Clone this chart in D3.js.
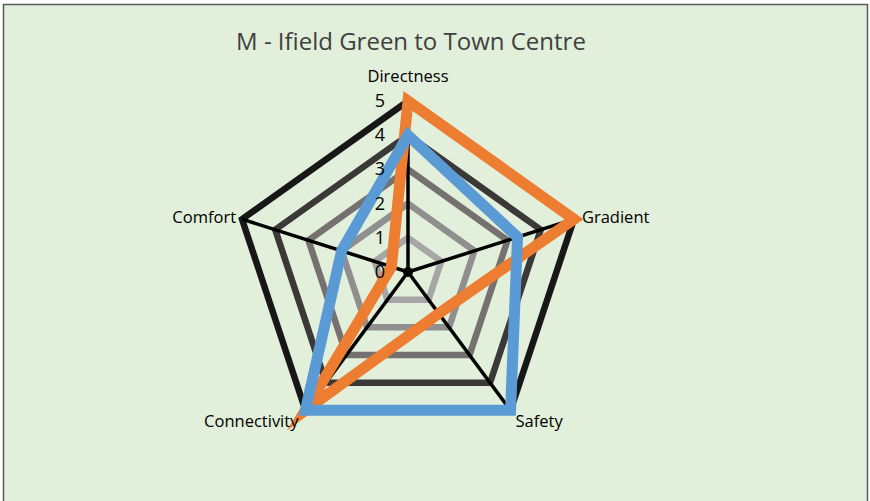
<!DOCTYPE html>
<html>
<head>
    <meta charset="utf-8">
    <title>M - Ifield Green to Town Centre</title>
    <style type="text/css">
        body {
            margin: 0;
            background-color: #ffffff;
        }

        text {
            font-family: "Open Sans", Lato, sans-serif;
            fill: #000000;
        }

        .title {
            font-size: 24px;
            fill: #404040;
        }

        .cat {
            font-size: 16.5px;
        }

        .tick {
            font-size: 18px;
        }
    </style>
</head>
<body>

<script src="https://cdn.jsdelivr.net/npm/d3@7"></script>
<script type="text/javascript">
    //图表数据
    var categories = ["Directness", "Gradient", "Safety", "Connectivity", "Comfort"];
    var tickLabels = [0, 1, 2, 3, 4, 5];
    var seriesOrange = [5, 5, 1.5, 5, 0.5];
    var seriesBlue = [4, 3.3, 5, 5, 2];
    var ringColors = ["#a6a6a6", "#8f8f8f", "#767171", "#3b3838", "#171717"];

    var width = 870,
        height = 501,
        cx = 408,
        cy = 272;

    var svg = d3.select("body")
        .append("svg")
        .attr("width", width)
        .attr("height", height);

    //背景和边框
    svg.append("rect")
        .attr("x", 3.5)
        .attr("y", 4.5)
        .attr("width", 864)
        .attr("height", 510)
        .attr("fill", "#e2efda")
        .attr("stroke", "#595959")
        .attr("stroke-width", 1.5);

    svg.append("text")
        .attr("class", "title")
        .attr("x", 411)
        .attr("y", 50)
        .attr("text-anchor", "middle")
        .text("M - Ifield Green to Town Centre");

    //半径比例尺（原图水平方向略宽）
    var rx = d3.scaleLinear().domain([0, 5]).range([0, 174.5]);
    var ry = d3.scaleLinear().domain([0, 5]).range([0, 171]);
    var angle = d3.scalePoint()
        .domain(categories)
        .range([0, 2 * Math.PI * (categories.length - 1) / categories.length]);

    function px(c, v) { return rx(v) * Math.sin(angle(c)); }
    function py(c, v) { return -ry(v) * Math.cos(angle(c)); }

    var g = svg.append("g").attr("transform", "translate(" + cx + "," + cy + ")");

    var poly = d3.line()
        .x(function (d) { return px(d.cat, d.v); })
        .y(function (d) { return py(d.cat, d.v); })
        .curve(d3.curveLinearClosed);

    //网格环
    g.selectAll("path.ring")
        .data(tickLabels.slice(1))
        .enter()
        .append("path")
        .attr("class", "ring")
        .attr("d", function (t) {
            return poly(categories.map(function (c) { return {cat: c, v: t}; }));
        })
        .attr("fill", "none")
        .attr("stroke", function (t, i) { return ringColors[i]; })
        .attr("stroke-width", 6.5)
        .attr("stroke-linejoin", "miter");

    //轴线
    g.selectAll("line.spoke")
        .data(categories)
        .enter()
        .append("line")
        .attr("class", "spoke")
        .attr("x1", 0)
        .attr("y1", 0)
        .attr("x2", function (c) { return px(c, 5); })
        .attr("y2", function (c) { return py(c, 5); })
        .attr("stroke", "#000000")
        .attr("stroke-width", 3.5);

    g.append("circle").attr("r", 5).attr("fill", "#000000");

    //数据系列
    var series = [
        {values: seriesOrange, color: "#ed7d31"},
        {values: seriesBlue, color: "#5b9bd5"}
    ];

    g.selectAll("path.series")
        .data(series)
        .enter()
        .append("path")
        .attr("class", "series")
        .attr("d", function (s) {
            return poly(s.values.map(function (v, i) { return {cat: categories[i], v: v}; }));
        })
        .attr("fill", "none")
        .attr("stroke", function (s) { return s.color; })
        .attr("stroke-width", 11)
        .attr("stroke-linejoin", "miter")
        .attr("stroke-miterlimit", 10);

    //刻度标签
    g.selectAll("text.tick")
        .data(tickLabels)
        .enter()
        .append("text")
        .attr("class", "tick")
        .attr("x", -28)
        .attr("y", function (t) { return -ry(t) + 6; })
        .attr("text-anchor", "middle")
        .text(function (t) { return t; });

    //类别标签
    var catPos = {
        "Directness": {dx: 0, dy: -19, anchor: "middle"},
        "Gradient": {dx: 8, dy: 4, anchor: "start"},
        "Safety": {dx: 5, dy: 17, anchor: "start"},
        "Connectivity": {dx: -7, dy: 17, anchor: "end"},
        "Comfort": {dx: -6, dy: 4, anchor: "end"}
    };

    g.selectAll("text.cat")
        .data(categories)
        .enter()
        .append("text")
        .attr("class", "cat")
        .attr("x", function (c) { return px(c, 5) + catPos[c].dx; })
        .attr("y", function (c) { return py(c, 5) + catPos[c].dy; })
        .attr("text-anchor", function (c) { return catPos[c].anchor; })
        .text(function (c) { return c; });
</script>
</body>
</html>
